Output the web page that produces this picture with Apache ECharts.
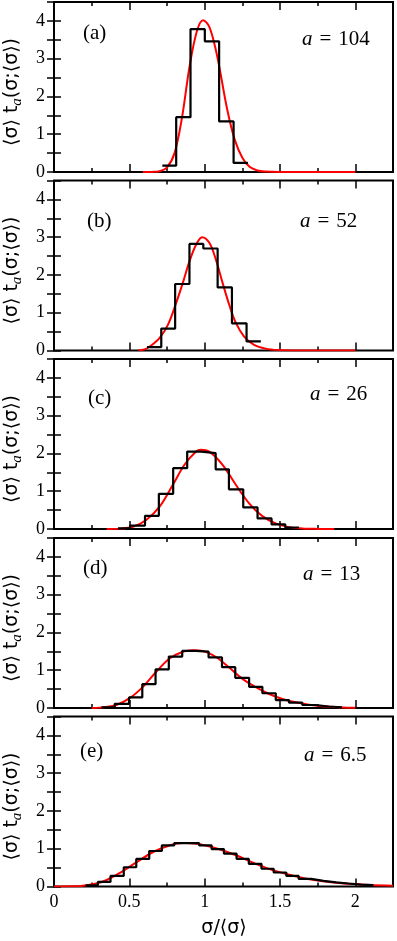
<!DOCTYPE html>
<html>
<head>
<meta charset="utf-8">
<script src="https://cdn.jsdelivr.net/npm/echarts@6/dist/echarts.min.js"></script>
<style>
html, body { margin: 0; padding: 0; background: #fff; }
#chart { width: 397px; height: 941px; }
</style>
</head>
<body>
<div id="chart"></div>
<script>
// values: histogram bin edges + heights, and the red fitted curve

// (a) a = 104
var edgesA = [0.719, 0.811, 0.906, 1.001, 1.096, 1.192, 1.287];
var histA = [0.17, 1.45, 3.78, 3.46, 1.34, 0.24];
var curveXA = [0.59, 0.65, 0.70, 0.75, 0.80, 0.85, 0.90, 0.95, 0.99, 1.03, 1.07, 1.10, 1.15, 1.20, 1.25, 1.30, 1.35, 1.40, 1.50, 2.00];
var curveYA = [0, 0.003, 0.02, 0.12, 0.5, 1.45, 2.8, 3.75, 4.02, 3.85, 3.3, 2.72, 1.65, 0.85, 0.38, 0.13, 0.04, 0.012, 0, 0];

// (b) a = 52
var edgesB = [0.617, 0.712, 0.804, 0.899, 0.991, 1.086, 1.181, 1.278, 1.373];
var histB = [0.09, 0.58, 1.76, 2.82, 2.70, 1.67, 0.72, 0.24];
var curveXB = [0.56, 0.60, 0.634, 0.70, 0.756, 0.811, 0.855, 0.899, 0.943, 0.983, 1.031, 1.075, 1.119, 1.163, 1.207, 1.262, 1.328, 1.405, 1.49, 1.60, 2.00];
var curveYB = [0, 0.03, 0.1, 0.33, 0.68, 1.26, 1.79, 2.36, 2.80, 3.0, 2.85, 2.40, 1.79, 1.21, 0.73, 0.37, 0.15, 0.05, 0.01, 0, 0];

// (c) a = 26
var edgesC = [0.425, 0.505, 0.604, 0.696, 0.791, 0.884, 0.978, 1.073, 1.161, 1.256, 1.351, 1.444, 1.535, 1.626];
var histC = [0.02, 0.09, 0.35, 0.93, 1.61, 2.05, 2.01, 1.58, 1.05, 0.57, 0.28, 0.12, 0.04];
var curveXC = [0.35, 0.436, 0.524, 0.612, 0.701, 0.789, 0.866, 0.943, 0.975, 1.031, 1.119, 1.207, 1.295, 1.383, 1.471, 1.559, 1.647, 1.75, 1.86];
var curveYC = [0, 0.01, 0.06, 0.24, 0.59, 1.17, 1.70, 2.05, 2.1, 2.05, 1.70, 1.17, 0.68, 0.34, 0.15, 0.05, 0.015, 0.003, 0];

// (d) a = 13
var edgesD = [0.315, 0.403, 0.498, 0.586, 0.674, 0.762, 0.851, 0.939, 1.026, 1.115, 1.203, 1.295, 1.383, 1.472, 1.560, 1.648, 1.736, 1.824, 1.912];
var histD = [0.02, 0.11, 0.28, 0.63, 1.02, 1.36, 1.51, 1.49, 1.34, 1.08, 0.80, 0.56, 0.39, 0.21, 0.14, 0.08, 0.04, 0.02];
var curveXD = [0.25, 0.304, 0.414, 0.502, 0.590, 0.679, 0.767, 0.855, 0.921, 0.987, 1.075, 1.163, 1.251, 1.339, 1.428, 1.516, 1.604, 1.692, 1.780, 1.912, 2.0];
var curveYD = [0, 0.01, 0.08, 0.26, 0.56, 0.96, 1.31, 1.49, 1.53, 1.51, 1.35, 1.07, 0.77, 0.55, 0.37, 0.24, 0.15, 0.085, 0.045, 0.015, 0.005];

// (e) a = 6.5
var edgesE = [0.209, 0.291, 0.375, 0.463, 0.546, 0.632, 0.716, 0.798, 0.881, 0.963, 1.046, 1.128, 1.212, 1.293, 1.377, 1.458, 1.542, 1.624, 1.707, 1.789, 1.873, 1.954, 2.038, 2.12];
var histE = [0.03, 0.12, 0.28, 0.51, 0.73, 0.94, 1.09, 1.15, 1.15, 1.09, 0.99, 0.87, 0.73, 0.60, 0.47, 0.37, 0.28, 0.20, 0.15, 0.11, 0.08, 0.05, 0.035];
var curveXE = [0, 0.11, 0.22, 0.33, 0.441, 0.551, 0.661, 0.771, 0.85, 0.881, 0.991, 1.102, 1.212, 1.322, 1.432, 1.542, 1.652, 1.762, 1.873, 1.983, 2.093, 2.25];
var curveYE = [0, 0.005, 0.035, 0.14, 0.37, 0.65, 0.92, 1.09, 1.15, 1.15, 1.10, 0.98, 0.82, 0.63, 0.46, 0.33, 0.225, 0.15, 0.10, 0.065, 0.04, 0.02];

var panelTags = ['(a)', '(b)', '(c)', '(d)', '(e)'];
var aValues = ['104', '52', '26', '13', '6.5'];
var xTickLabels = [0, 0.5, 1, 1.5, 2];
var yTickLabels = [0, 1, 2, 3, 4];

var panels = [
    { edges: edgesA, hist: histA, cx: curveXA, cy: curveYA },
    { edges: edgesB, hist: histB, cx: curveXB, cy: curveYB },
    { edges: edgesC, hist: histC, cx: curveXC, cy: curveYC },
    { edges: edgesD, hist: histD, cx: curveXD, cy: curveYD },
    { edges: edgesE, hist: histE, cx: curveXE, cy: curveYE }
];

// layout (pixels)
var gridTops = [2, 180.5, 359, 538, 716.5];
var gridH = 170;
var tagPos = [[83, 33], [87, 221.5], [88, 398], [83, 568], [80, 751.5]];
var aPos = [[302, 39], [300, 221], [310, 394.5], [303, 574.5], [304, 755]];

var serif = 'Liberation Serif';
var oChart = echarts.init(document.getElementById('chart'));

var grids = [], xAxes = [], yAxes = [], series = [], graphics = [];

for (var i = 0; i < 5; i++) {
    grids.push({
        left: 54, right: 4, top: gridTops[i], height: gridH,
        show: true, borderColor: '#000', borderWidth: 2
    });

    // x axes: bottom major / bottom minor / top major / top minor
    var xs = [['bottom', 0.5, 8], ['bottom', 0.25, 4], ['top', 0.5, 8], ['top', 0.25, 4]];
    for (var k = 0; k < xs.length; k++) {
        xAxes.push({
            gridIndex: i, type: 'value', position: xs[k][0],
            min: 0, max: 2.25, interval: xs[k][1],
            axisLine: { show: false },
            axisTick: { show: true, inside: true, length: xs[k][2], lineStyle: { color: '#000', width: 1.5 } },
            axisLabel: {
                show: (i === 4 && k === 0),
                margin: 7,
                fontFamily: serif, fontSize: 18, color: '#000',
                formatter: function (v) {
                    return xTickLabels.indexOf(v) >= 0 ? String(v) : '';
                }
            },
            splitLine: { show: false }
        });
    }

    // y axes: left / right
    var ys = ['left', 'right'];
    for (var m = 0; m < ys.length; m++) {
        yAxes.push({
            gridIndex: i, type: 'value', position: ys[m],
            min: 0, max: 4.5, interval: 0.5,
            axisLine: { show: false },
            axisTick: { show: true, inside: true, length: 7, lineStyle: { color: '#000', width: 1.5 } },
            axisLabel: {
                show: m === 0,
                margin: 9,
                fontFamily: serif, fontSize: 18, color: '#000',
                formatter: function (v) {
                    return yTickLabels.indexOf(v) >= 0 ? String(v) : '';
                }
            },
            splitLine: { show: false }
        });
    }

    var p = panels[i];
    var curveData = [];
    for (var j = 0; j < p.cx.length; j++) curveData.push([p.cx[j], p.cy[j]]);
    var histData = [];
    for (var j = 0; j < p.hist.length; j++) histData.push([p.edges[j], p.hist[j]]);
    histData.push([p.edges[p.edges.length - 1], p.hist[p.hist.length - 1]]);

    series.push({
        type: 'line', xAxisIndex: 4 * i, yAxisIndex: 2 * i,
        data: curveData, smooth: 0.35, showSymbol: false, z: 2,
        lineStyle: { color: '#ff0000', width: 2 }
    });
    series.push({
        type: 'line', xAxisIndex: 4 * i, yAxisIndex: 2 * i,
        data: histData, step: 'end', showSymbol: false, z: 3,
        lineStyle: { color: '#000', width: 2.2 }
    });

    // panel tag and a = ...
    graphics.push({
        type: 'text', x: tagPos[i][0], y: tagPos[i][1],
        style: { text: panelTags[i], font: '21px "Liberation Serif"', fill: '#000', textVerticalAlign: 'middle' }
    });
    graphics.push({
        type: 'text', x: aPos[i][0], y: aPos[i][1],
        style: {
            text: '{i|a}\u2004=\u2004' + aValues[i],
            font: '21px "Liberation Serif"', fill: '#000', textVerticalAlign: 'middle',
            rich: { i: { fontFamily: serif, fontStyle: 'italic', fontSize: 21, fill: '#000' } }
        }
    });
    // rotated y title
    graphics.push({
        type: 'text', x: 12, y: gridTops[i] + gridH / 2 + 5, rotation: Math.PI / 2,
        style: {
            text: '⟨σ⟩ t{sub|a}(σ;⟨σ⟩)',
            font: '19px "DejaVu Sans"', fill: '#000',
            textAlign: 'center', textVerticalAlign: 'middle',
            rich: { sub: { fontFamily: serif, fontStyle: 'italic', fontSize: 15, fill: '#000', padding: [10, 0, 0, 0] } }
        }
    });
}

// x title
graphics.push({
    type: 'text', x: 224, y: 928,
    style: { text: 'σ/⟨σ⟩', font: '19px "DejaVu Sans"', fill: '#000', textAlign: 'center', textVerticalAlign: 'middle' }
});

var chartopt = {
    backgroundColor: '#fff',
    animation: false,
    grid: grids,
    xAxis: xAxes,
    yAxis: yAxes,
    series: series,
    graphic: graphics
};
oChart.setOption(chartopt);
</script>
</body>
</html>
